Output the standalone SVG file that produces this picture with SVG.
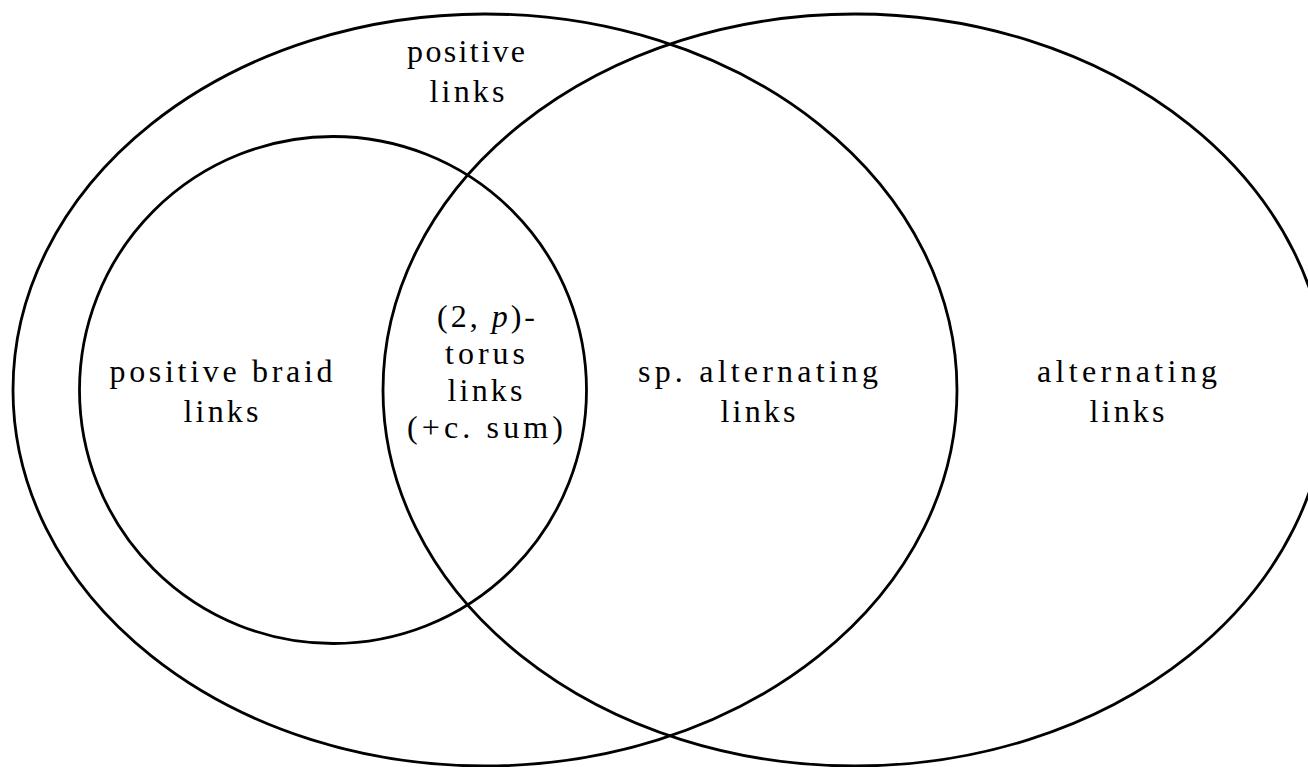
<svg xmlns="http://www.w3.org/2000/svg" width="1308" height="767" viewBox="0 0 1308 767">
<style>
.set{fill:none;stroke:#000;stroke-width:2.8}
text{font-family:'Liberation Serif','DejaVu Serif',serif;font-size:32px;fill:#000;text-anchor:middle}
</style>
<rect width="1308" height="767" fill="#fff"/>
<g id="positive-links">
<ellipse class="set" cx="485" cy="390" rx="472" ry="376"/>
<text x="466" y="62" textLength="118">positive</text>
<text x="467" y="102" textLength="75">links</text>
</g>
<g id="alternating-links">
<ellipse class="set" cx="855" cy="390" rx="472" ry="376"/>
<text x="1127" y="382" textLength="180">alternating</text>
<text x="1127" y="422" textLength="75">links</text>
</g>
<g id="positive-braid-links">
<circle class="set" cx="333" cy="390" r="253.5"/>
<text x="221" y="382" textLength="223">positive braid</text>
<text x="221" y="422" textLength="75">links</text>
</g>
<g id="torus-links">
<text x="486" y="327" textLength="98">(2, <tspan font-style="italic">p</tspan>)-</text>
<text x="485" y="364" textLength="80">torus</text>
<text x="485" y="401" textLength="75">links</text>
<text x="485" y="438" textLength="156">(+c. sum)</text>
</g>
<g id="sp-alternating-links">
<text x="758" y="382" textLength="240">sp. alternating</text>
<text x="758" y="422" textLength="75">links</text>
</g>
<g id="connectors"></g>
</svg>
